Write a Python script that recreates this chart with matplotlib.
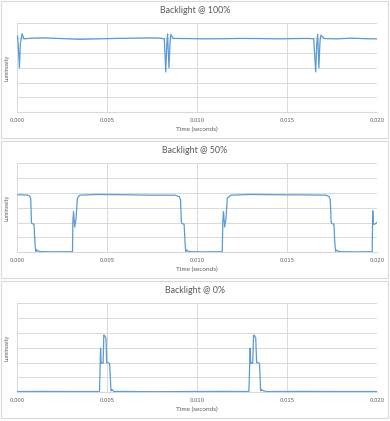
import matplotlib
matplotlib.use("Agg")
import matplotlib.pyplot as plt
from matplotlib.patches import Rectangle

plt.rcParams['font.family'] = ['Lato', 'DejaVu Sans']

# --- data (time in seconds, luminosity in arbitrary units) ---
titles = ["Backlight @ 100%", "Backlight @ 50%", "Backlight @ 0%"]
xticks = [0.000, 0.005, 0.010, 0.015, 0.020]

t_100 = [0.0, 0.00005, 0.0001, 0.00015, 0.0002, 0.0003, 0.0004, 0.0008, 0.0015,
         0.0025, 0.0035, 0.0045, 0.0055, 0.0065, 0.0075, 0.0080, 0.0082, 0.00828,
         0.00834, 0.00838, 0.00846, 0.00852, 0.00856, 0.0087, 0.0095, 0.0105,
         0.0115, 0.0125, 0.0135, 0.0145, 0.0155, 0.0162, 0.0165, 0.01661, 0.01667,
         0.01672, 0.01679, 0.01685, 0.0169, 0.0171, 0.0178, 0.0186, 0.0194, 0.0200]
v_100 = [5.2, 5.1, 4.2, 3.0, 4.6, 5.3, 4.95, 5.0, 5.02, 4.97, 4.92, 4.95, 4.98,
         5.0, 5.02, 5.0, 4.95, 2.72, 4.6, 5.28, 3.0, 4.7, 5.25, 4.98, 4.97, 4.95,
         4.96, 4.98, 4.97, 4.95, 4.97, 4.98, 4.95, 2.72, 4.6, 5.26, 3.0, 4.8,
         5.2, 4.97, 4.95, 5.0, 4.96, 4.95]

t_50 = [0.0, 0.0003, 0.0006, 0.00072, 0.00078, 0.00082, 0.00086, 0.00096,
        0.00102, 0.00106, 0.0011, 0.00118, 0.0013, 0.0020, 0.0031, 0.00312,
        0.00316, 0.00322, 0.0033, 0.00337, 0.0035, 0.0045, 0.0060, 0.0075,
        0.0088, 0.00903, 0.0091, 0.00915, 0.0092, 0.0093, 0.00936, 0.0094,
        0.00945, 0.0095, 0.0097, 0.0105, 0.01142, 0.01145, 0.01149, 0.01155,
        0.01163, 0.0117, 0.0119, 0.0130, 0.0145, 0.0160, 0.0172, 0.01736,
        0.01742, 0.01747, 0.01752, 0.01762, 0.01768, 0.01772, 0.01778, 0.01785,
        0.0180, 0.0190, 0.01975, 0.01978, 0.01982, 0.0199, 0.0200]
v_50 = [3.88, 3.87, 3.85, 3.8, 3.6, 2.0, 1.93, 1.9, 0.5, 0.05, 0.18, 0.08, 0.05,
        0.03, 0.04, 2.1, 2.75, 1.7, 2.3, 3.65, 3.85, 3.9, 3.88, 3.85, 3.85,
        3.75, 3.55, 2.0, 1.93, 1.9, 0.5, 0.05, 0.15, 0.08, 0.04, 0.03, 0.04,
        2.1, 2.75, 1.7, 2.3, 3.65, 3.85, 3.9, 3.88, 3.87, 3.85, 3.75, 3.55,
        2.0, 1.93, 1.9, 0.5, 0.05, 0.15, 0.08, 0.04, 0.03, 0.04, 2.8, 1.9,
        1.9, 2.0]

t_0 = [0.0, 0.0015, 0.0030, 0.0046, 0.00466, 0.00469, 0.00472, 0.0048,
       0.00484, 0.0049, 0.00496, 0.005, 0.00506, 0.00516, 0.00524, 0.0053,
       0.00535, 0.0054, 0.0056, 0.0075, 0.0095, 0.0115, 0.0129, 0.01297,
       0.013, 0.01303, 0.01311, 0.01316, 0.01322, 0.01328, 0.01333, 0.01341,
       0.01349, 0.01355, 0.0136, 0.01366, 0.0139, 0.0160, 0.0180, 0.0200]
v_0 = [0.05, 0.06, 0.05, 0.05, 2.97, 1.96, 2.0, 1.95, 3.86, 3.8, 3.65, 2.0,
       1.99, 1.95, 0.1, 0.18, 0.12, 0.05, 0.06, 0.04, 0.05, 0.06, 0.05, 2.97,
       1.96, 2.0, 1.95, 3.86, 3.8, 3.65, 2.0, 1.99, 1.95, 0.1, 0.18, 0.12,
       0.05, 0.06, 0.05, 0.05]

series = [(t_100, v_100), (t_50, v_50), (t_0, v_0)]

line_color = '#5B9BD5'
grid_color = '#D9D9D9'
text_color = '#595959'

fig = plt.figure(figsize=(3.9, 4.21), dpi=100)
W, H = 390.0, 421.0

for i, (title, (t, v)) in enumerate(zip(titles, series)):
    off = 140 * i
    # panel border
    fig.patches.append(Rectangle((1 / W, 1 - (off + 138) / H), 387 / W, 137 / H,
                                 transform=fig.transFigure, fill=False,
                                 edgecolor=grid_color, linewidth=0.8))
    top, bottom = off + 23.3, off + 112.3
    ax = fig.add_axes([16.7 / W, 1 - bottom / H, 360 / W, (bottom - top) / H])
    ax.plot(t, v, color=line_color, linewidth=0.9)
    ax.set_xlim(0, 0.020)
    ax.set_ylim(0, 6)
    ax.set_xticks(xticks)
    ax.set_xticklabels([f"{x:.3f}" for x in xticks], family=['DejaVu Sans'])
    ax.set_yticks(range(7))
    ax.set_yticklabels([])
    ax.grid(True, color=grid_color, linewidth=0.7)
    ax.set_axisbelow(True)
    for s in ax.spines.values():
        s.set_visible(False)
    ax.spines['bottom'].set_visible(True)
    ax.spines['bottom'].set_color(grid_color)
    ax.tick_params(length=0, labelsize=3.8, colors=text_color, pad=4)
    ax.set_xlabel("Time (seconds)", fontsize=4.6, color=text_color, labelpad=3)
    ax.set_ylabel("Luminosity", fontsize=4.0, color=text_color, labelpad=1)
    fig.text(195 / W, 1 - (off + 10.5) / H, title, ha='center', va='center',
             fontsize=6.4, color=text_color)

fig.savefig("out.png", dpi=100)
